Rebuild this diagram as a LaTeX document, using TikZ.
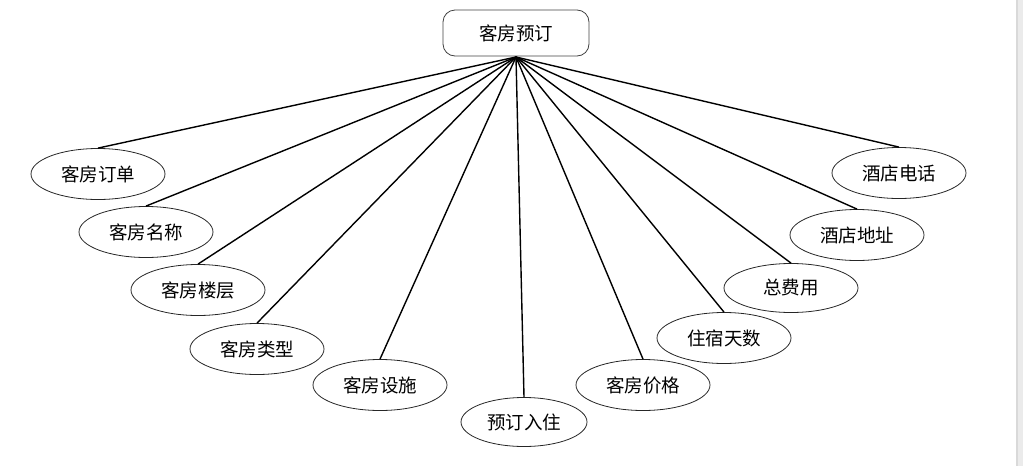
\documentclass[tikz,border=0pt]{standalone}
\usepackage{fontspec}
\newfontfamily\cjk{Noto Sans CJK SC}
\usetikzlibrary{shapes.geometric}
\begin{document}
\begin{tikzpicture}[x=1pt,y=-1pt,
  attr/.style={ellipse,draw=black!85,line width=0.8pt,minimum width=134pt,minimum height=51pt,inner sep=0pt,font=\cjk\fontsize{18.5}{18.5}\selectfont},
  root/.style={rectangle,rounded corners=12pt,draw=black!75,line width=0.8pt,minimum width=146pt,minimum height=46pt,font=\cjk\fontsize{18.5}{18.5}\selectfont},
  link/.style={line width=1.4pt}]
\useasboundingbox (0,0) rectangle (1023,466);
\fill[black!8] (1016,0) rectangle (1023,466);
\fill[black!15] (1016,0) rectangle (1017.5,466);
\node[root] (top) at (516,33) {客房预订};
\coordinate (hub) at (516,57);
\node[attr] (a1) at (98,174) {客房订单};
\node[attr] (a2) at (146,232) {客房名称};
\node[attr] (a3) at (198,290) {客房楼层};
\node[attr] (a4) at (257,349) {客房类型};
\node[attr] (a5) at (380,385) {客房设施};
\node[attr,minimum width=126pt,minimum height=49pt] (a6) at (524,422) {预订入住};
\node[attr] (a7) at (643,385) {客房价格};
\node[attr] (a8) at (724,338) {住宿天数};
\node[attr,minimum height=49pt] (a9) at (791,288) {总费用};
\node[attr] (a10) at (857,235) {酒店地址};
\node[attr] (a11) at (899,173) {酒店电话};
\foreach \n in {a1,a2,a3,a4,a5,a6,a7,a8,a9,a10,a11}
  \draw[link] (hub) -- (\n.north);
\end{tikzpicture}
\end{document}
